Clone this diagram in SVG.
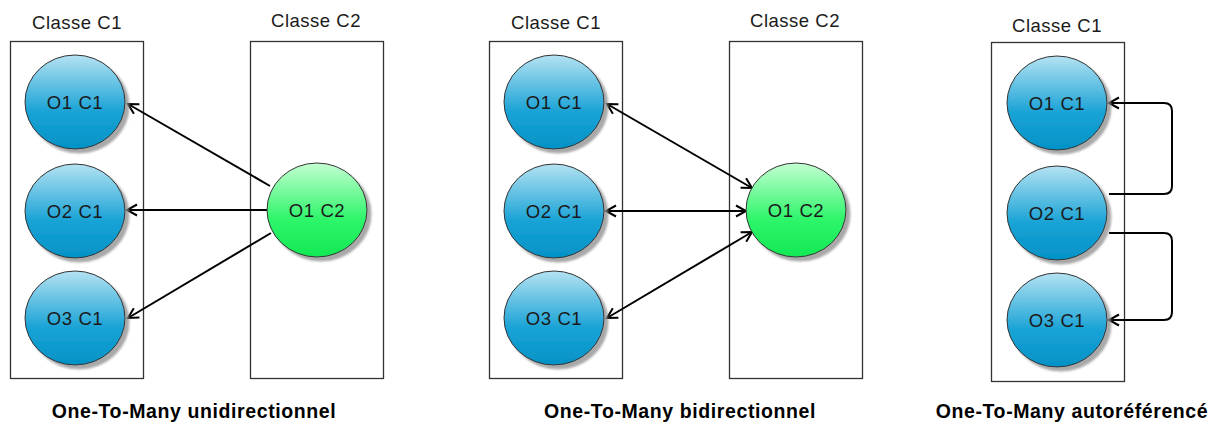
<svg xmlns="http://www.w3.org/2000/svg" width="1221" height="425" viewBox="0 0 1221 425">
  <defs>
    <linearGradient id="gBlue" x1="0" y1="0" x2="0" y2="1">
      <stop offset="0" stop-color="#b4e2f2"/>
      <stop offset="0.6" stop-color="#1aa3d6"/>
      <stop offset="1" stop-color="#0392c6"/>
    </linearGradient>
    <linearGradient id="gGreen" x1="0" y1="0" x2="0" y2="1">
      <stop offset="0" stop-color="#c4ffd2"/>
      <stop offset="0.6" stop-color="#2ef56a"/>
      <stop offset="1" stop-color="#14e854"/>
    </linearGradient>
    <filter id="shadow" x="-20%" y="-20%" width="150%" height="150%">
      <feGaussianBlur in="SourceAlpha" stdDeviation="0.8" result="b"/>
      <feOffset in="b" dx="4" dy="4" result="o"/>
      <feFlood flood-color="#8c8c8c" flood-opacity="0.75"/>
      <feComposite in2="o" operator="in" result="s"/>
      <feMerge><feMergeNode in="s"/><feMergeNode in="SourceGraphic"/></feMerge>
    </filter>
    <marker id="open" viewBox="-12 -7 14 14" markerUnits="userSpaceOnUse" markerWidth="14" markerHeight="14" refX="0" refY="0" orient="auto-start-reverse">
      <path d="M-10,-5.5 L0,0 L-10,5.5" fill="none" stroke="#000" stroke-width="2"/>
    </marker>
  </defs>
  <style>
    .cls { fill: #fff; stroke: #333; stroke-width: 1.3; }
    .obj { stroke: #333; stroke-width: 1; filter: url(#shadow); }
    .c1 { fill: url(#gBlue); }
    .c2 { fill: url(#gGreen); }
    .lbl { font-family: "Liberation Sans", Arial, sans-serif; font-size: 18.5px; letter-spacing: 0.6px; fill: #1a1a1a; text-anchor: middle; dominant-baseline: central; }
    .title { font-family: "Liberation Sans", Arial, sans-serif; font-size: 18.5px; letter-spacing: 0.5px; fill: #1a1a1a; text-anchor: middle; }
    .cap { font-family: "Liberation Sans", Arial, sans-serif; font-size: 19.5px; letter-spacing: 0.6px; font-weight: bold; fill: #000; text-anchor: middle; }
    .edge { fill: none; stroke: #000; stroke-width: 2; }
  </style>

  <!-- class frames -->
  <g id="classes">
    <rect class="cls" x="10.5" y="41.5" width="133" height="337"/>
    <rect class="cls" x="250.5" y="41.5" width="133" height="337"/>
    <rect class="cls" x="489.5" y="41.5" width="133" height="337"/>
    <rect class="cls" x="729.5" y="41.5" width="133" height="337"/>
    <rect class="cls" x="991.5" y="42.5" width="133" height="339"/>
    <text class="title" x="77" y="29">Classe C1</text>
    <text class="title" x="316" y="27">Classe C2</text>
    <text class="title" x="556" y="29">Classe C1</text>
    <text class="title" x="795" y="27">Classe C2</text>
    <text class="title" x="1057" y="32">Classe C1</text>
  </g>

  <!-- connectors -->
  <g id="connectors">
    <!-- unidirectional -->
    <line class="edge" x1="270" y1="186" x2="128" y2="104" marker-end="url(#open)"/>
    <line class="edge" x1="267" y1="210" x2="127" y2="210" marker-end="url(#open)"/>
    <line class="edge" x1="271" y1="233" x2="128" y2="318" marker-end="url(#open)"/>
    <!-- bidirectional -->
    <line class="edge" x1="607" y1="104" x2="752" y2="188" marker-start="url(#open)" marker-end="url(#open)"/>
    <line class="edge" x1="606" y1="211" x2="746" y2="211" marker-start="url(#open)" marker-end="url(#open)"/>
    <line class="edge" x1="607" y1="318" x2="752" y2="232" marker-start="url(#open)" marker-end="url(#open)"/>
    <!-- self reference -->
    <path class="edge" d="M1109,194 H1164 Q1172,194 1172,186 V111 Q1172,103 1164,103 H1109" marker-end="url(#open)"/>
    <path class="edge" d="M1109,233 H1164 Q1172,233 1172,241 V312 Q1172,320 1164,320 H1109" marker-end="url(#open)"/>
  </g>

  <!-- unidirectional panel -->
  <g id="u-o1c1"><ellipse class="obj c1" cx="75" cy="102" rx="50" ry="47"/><text class="lbl" x="75" y="102">O1 C1</text></g>
  <g id="u-o2c1"><ellipse class="obj c1" cx="75" cy="211" rx="50" ry="47"/><text class="lbl" x="75" y="211">O2 C1</text></g>
  <g id="u-o3c1"><ellipse class="obj c1" cx="75" cy="318" rx="50" ry="47"/><text class="lbl" x="75" y="318">O3 C1</text></g>
  <g id="u-o1c2"><ellipse class="obj c2" cx="317" cy="210" rx="50" ry="47"/><text class="lbl" x="317" y="210">O1 C2</text></g>

  <!-- bidirectional panel -->
  <g id="b-o1c1"><ellipse class="obj c1" cx="554" cy="102" rx="50" ry="47"/><text class="lbl" x="554" y="102">O1 C1</text></g>
  <g id="b-o2c1"><ellipse class="obj c1" cx="554" cy="211" rx="50" ry="47"/><text class="lbl" x="554" y="211">O2 C1</text></g>
  <g id="b-o3c1"><ellipse class="obj c1" cx="554" cy="318" rx="50" ry="47"/><text class="lbl" x="554" y="318">O3 C1</text></g>
  <g id="b-o1c2"><ellipse class="obj c2" cx="796" cy="210" rx="50" ry="47"/><text class="lbl" x="796" y="210">O1 C2</text></g>

  <!-- self-referencing panel -->
  <g id="s-o1c1"><ellipse class="obj c1" cx="1057" cy="103" rx="50" ry="47"/><text class="lbl" x="1057" y="103">O1 C1</text></g>
  <g id="s-o2c1"><ellipse class="obj c1" cx="1057" cy="213" rx="50" ry="47"/><text class="lbl" x="1057" y="213">O2 C1</text></g>
  <g id="s-o3c1"><ellipse class="obj c1" cx="1057" cy="320" rx="50" ry="47"/><text class="lbl" x="1057" y="320">O3 C1</text></g>

  <!-- captions -->
  <g id="captions">
    <text class="cap" x="194" y="418">One-To-Many unidirectionnel</text>
    <text class="cap" x="680" y="418">One-To-Many bidirectionnel</text>
    <text class="cap" x="1072" y="418">One-To-Many autoréférencé</text>
  </g>
</svg>
